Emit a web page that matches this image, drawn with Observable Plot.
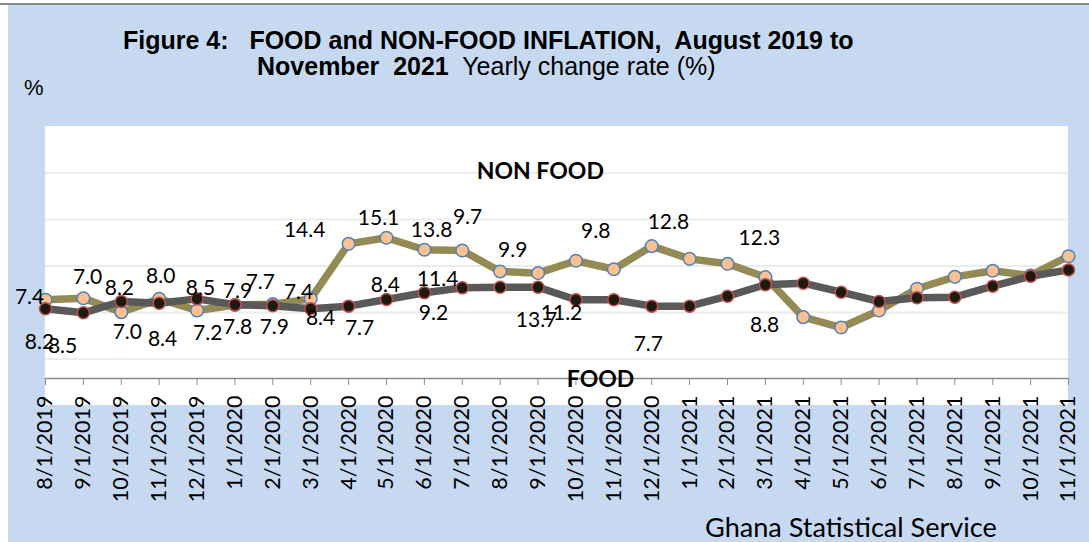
<!DOCTYPE html>
<html><head><meta charset="utf-8">
<script src="https://cdn.jsdelivr.net/npm/d3@7"></script>
<script src="https://cdn.jsdelivr.net/npm/@observablehq/plot@0.6"></script>
<style>
body{margin:0;background:#fff}
#wrap{position:relative;width:1089px;height:542px;overflow:hidden;background:#fff}
.abs{position:absolute;white-space:pre}
</style></head><body>
<div id="wrap">
 <div class="abs" style="left:0;top:3px;width:1089px;height:2px;background:#8a8a8a"></div>
 <div class="abs" style="left:8px;top:5px;right:0;bottom:0;background:#c6d9f1"></div>
 <div class="abs" style="left:45px;top:126px;width:1023px;height:279px;background:#fff"></div>
 <div class="abs" style="left:123px;top:28px;font:bold 25px 'Liberation Sans',Arial,sans-serif;line-height:25px;color:#000">Figure 4:   FOOD and NON-FOOD INFLATION,  August 2019 to</div>
 <div class="abs" style="left:257px;top:54px;font:25px 'Liberation Sans',Arial,sans-serif;line-height:25px;color:#000"><b>November  2021</b>  Yearly change rate (%)</div>
 <div class="abs" style="left:24px;top:77px;font:22px 'Liberation Sans',Arial,sans-serif;line-height:22px;color:#000">%</div>
 <div id="chart" class="abs" style="left:0;top:0"></div>
 <div class="abs" id="src" style="left:705px;top:512px;font:28px Lato,sans-serif;line-height:28px;color:#000">Ghana Statistical Service</div>
</div>
<script>
const categories = ["8/1/2019","9/1/2019","10/1/2019","11/1/2019","12/1/2019",
  "1/1/2020","2/1/2020","3/1/2020","4/1/2020","5/1/2020","6/1/2020","7/1/2020","8/1/2020","9/1/2020","10/1/2020","11/1/2020","12/1/2020",
  "1/1/2021","2/1/2021","3/1/2021","4/1/2021","5/1/2021","6/1/2021","7/1/2021","8/1/2021","9/1/2021","10/1/2021","11/1/2021"];

// olive series (plotted values)
const nonFood = [6.82, 6.92, 6.02, 6.88, 6.13, 6.48, 6.54, 6.88, 10.43, 10.82, 10.05, 10.0, 8.65, 8.54,
  9.34, 8.79, 10.28, 9.46, 9.14, 8.28, 5.70, 5.03, 6.13, 7.53, 8.30, 8.69, 8.39, 9.63];
// dark grey series
const food = [6.24, 5.98, 6.71, 6.60, 6.88, 6.50, 6.43, 6.24, 6.41, 6.84, 7.27, 7.59, 7.63, 7.63,
  6.82, 6.82, 6.41, 6.41, 7.05, 7.79, 7.89, 7.31, 6.71, 6.95, 6.99, 7.70, 8.34, 8.75];

// data labels as printed on the chart, with their anchor in data units (month index, value)
const labelTexts  = ["7.4","8.2","8.5","7.0","8.2","7.0","8.0","8.4","8.5","7.2","7.9","7.8","7.7","7.9","7.4","8.4",
  "14.4","7.7","15.1","8.4","13.8","9.7","11.4","9.2","9.9","13.7","11.2","9.8","12.8","7.7","12.3","8.8"];
const labelMonths = [-0.42,-0.16,0.45,1.11,1.95,2.16,3.04,3.09,4.09,4.28,5.07,5.07,5.67,6.04,6.68,7.26,
  6.84,8.29,8.79,8.97,10.19,11.14,10.35,10.24,12.33,12.96,13.62,14.52,16.44,15.91,18.84,18.98];
const labelValues = [6.97,4.1,3.8,8.26,7.55,4.71,8.32,4.26,7.55,4.65,7.35,5.03,7.94,5.03,7.29,5.61,
  11.29,4.97,12.06,7.74,11.29,12.13,8.13,5.94,10.0,5.48,5.94,11.23,11.81,3.94,10.77,5.16];

const seriesNames = ["NON FOOD", "FOOD"];
const seriesNameMonths = [13.06, 14.65];
const seriesNameValues = [15.1, 1.68];

const gridValues = [3, 6, 9, 12, 15];

const rows = categories.map((c, i) => ({i, c, nonFood: nonFood[i], food: food[i]}));
const labels = labelTexts.map((t, k) => ({t, m: labelMonths[k], v: labelValues[k]}));
const names = seriesNames.map((t, k) => ({t, m: seriesNameMonths[k], v: seriesNameValues[k]}));

const plot = Plot.plot({
  width: 1089, height: 542,
  marginLeft: 45, marginRight: 21, marginTop: 126, marginBottom: 164,
  style: {background: "transparent", fontFamily: "Lato, sans-serif", fontSize: "21.5px", overflow: "visible", color: "#000"},
  x: {type: "linear", domain: [0, categories.length - 1], axis: null},
  y: {domain: [0, 18], range: [405, 126], axis: null},
  marks: [
    Plot.ruleY(gridValues, {stroke: "#ececec", strokeWidth: 2}),
    Plot.axisX(d3.range(categories.length), {anchor: "bottom", tickFormat: i => categories[i], tickRotate: -90,
      tickSize: 7, tickPadding: 10, stroke: "#8c8c8c", fill: "#000", fontSize: 21.5, label: null}),
    Plot.frame({anchor: "bottom", stroke: "#8c8c8c", strokeWidth: 1.5}),
    Plot.line(rows, {x: "i", y: "nonFood", stroke: "#948a54", strokeWidth: 7.5, strokeLinejoin: "round"}),
    Plot.dot(rows, {x: "i", y: "nonFood", r: 6.3, fill: "#fac090", stroke: "#4f81bd", strokeWidth: 1.5}),
    Plot.line(rows, {x: "i", y: "food", stroke: "#595959", strokeWidth: 7.5, strokeLinejoin: "round"}),
    Plot.dot(rows, {x: "i", y: "food", r: 6, fill: "#1d1b10", stroke: "#c0504d", strokeWidth: 1.5}),
    Plot.text(labels, {x: "m", y: "v", text: "t", fontSize: 21, fill: "#000"}),
    Plot.text(names, {x: "m", y: "v", text: "t", fontSize: 23, fontWeight: "bold", fill: "#000"})
  ]
});
document.getElementById("chart").appendChild(plot);

// fit the source line to its measured width
(function fit(){
  const el = document.getElementById("src");
  const target = 292;
  const c = document.createElement("canvas").getContext("2d");
  c.font = "28px Lato";
  const w = c.measureText(el.textContent).width;
  if (w > 0) { const fs = 28 * target / w; el.style.fontSize = fs + "px"; el.style.lineHeight = fs + "px"; el.style.top = (537 - 0.887 * fs) + "px"; }
})();
</script>
</body></html>
